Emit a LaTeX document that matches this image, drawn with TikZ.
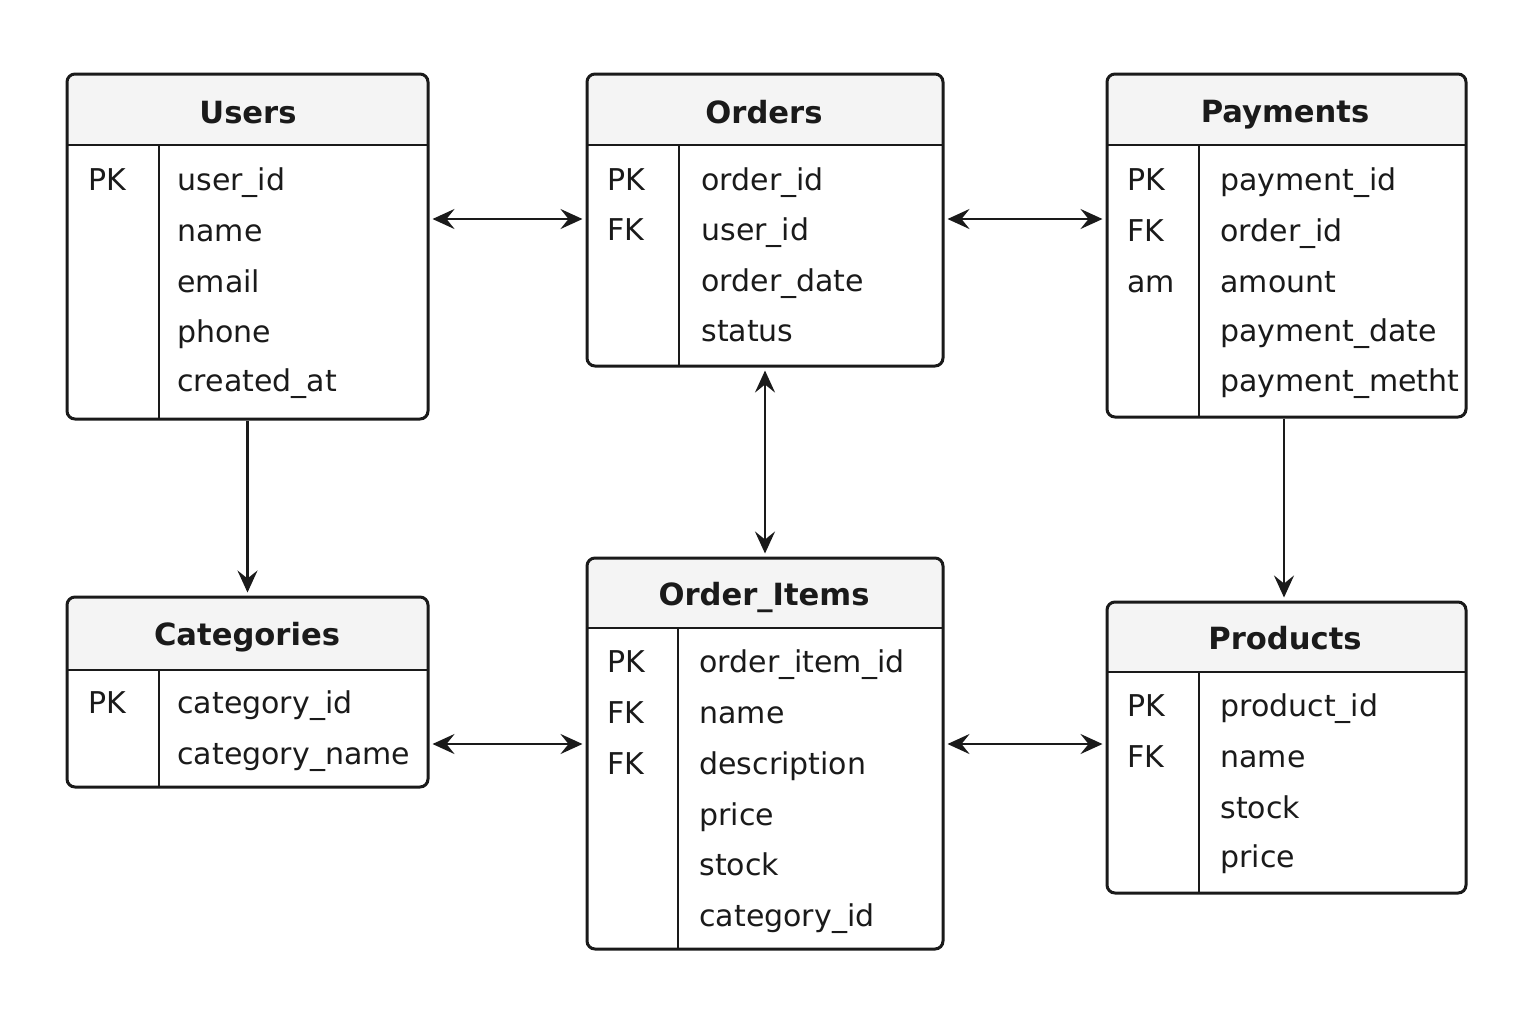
\documentclass[tikz,border=0pt]{standalone}
\usepackage{fontspec}
\setmainfont{DejaVu Sans}
\usetikzlibrary{arrows.meta,fit}
\definecolor{hdrfill}{HTML}{F4F4F4}
\definecolor{ink}{HTML}{1A1A1A}
\tikzset{
  tblline/.style={draw=ink, line width=1.3pt},
  tblbox/.style={draw=ink, line width=1.5pt, rounded corners=4pt, inner sep=0pt},
  tbltitle/.style={font=\bfseries\fontsize{15.3}{18}\selectfont, anchor=base, text=ink, inner sep=0pt},
  fld/.style={font=\fontsize{15}{18}\selectfont, anchor=base west, text=ink, inner sep=0pt},
  rel/.style={draw=ink, line width=1.2pt, shorten <=1.5pt, shorten >=1.5pt,
    >={Stealth[length=11pt,width=10pt,inset=4pt]}},
}
% name, x1, y1, x2, y2, header bottom, divider x
\newcommand{\ertable}[7]{%
  \begin{scope}
    \clip[rounded corners=4pt] (#2,#3) rectangle (#4,#5);
    \fill[hdrfill] (#2,#3) rectangle (#4,#6);
  \end{scope}
  \draw[tblline] (#2,#6) -- (#4,#6);
  \draw[tblline] (#7,#6) -- (#7,#5);
  \node[tblbox, fit={(#2,#3) (#4,#5)}] (#1) {};
}
\begin{document}
\begin{tikzpicture}[x=0.5pt,y=-0.5pt]
\useasboundingbox[fill=white] (0,0) rectangle (1536,1024);

% ---------- Users ----------
\ertable{users}{67}{74}{428}{419}{145}{159}
\node[tbltitle] (users-t) at (248,123) {Users};
\node[fld] (users-k1) at (88,190) {PK};
\node[fld] (users-f1) at (177,190) {user\_id};
\node[fld] (users-f2) at (177,241) {name};
\node[fld] (users-f3) at (177,292) {email};
\node[fld] (users-f4) at (177,342) {phone};
\node[fld] (users-f5) at (177,391) {created\_at};

% ---------- Orders ----------
\ertable{orders}{587}{74}{943}{366}{145}{679}
\node[tbltitle] (orders-t) at (764,123) {Orders};
\node[fld] (orders-k1) at (607,190) {PK};
\node[fld] (orders-k2) at (607,240) {FK};
\node[fld] (orders-f1) at (701,190) {order\_id};
\node[fld] (orders-f2) at (701,240) {user\_id};
\node[fld] (orders-f3) at (701,291) {order\_date};
\node[fld] (orders-f4) at (701,341) {status};

% ---------- Payments ----------
\ertable{payments}{1107}{74}{1466}{417}{145}{1199}
\node[tbltitle] (payments-t) at (1285,122) {Payments};
\node[fld] (payments-k1) at (1127,190) {PK};
\node[fld] (payments-k2) at (1127,241) {FK};
\node[fld] (payments-k3) at (1127,292) {am};
\node[fld] (payments-f1) at (1220,190) {payment\_id};
\node[fld] (payments-f2) at (1220,241) {order\_id};
\node[fld] (payments-f3) at (1220,292) {amount};
\node[fld] (payments-f4) at (1220,341) {payment\_date};
\node[fld] (payments-f5) at (1220,391) {payment\_metht};

% ---------- Categories ----------
\ertable{categories}{67}{597}{428}{787}{670}{159}
\node[tbltitle] (categories-t) at (247,645) {Categories};
\node[fld] (categories-k1) at (88,713) {PK};
\node[fld] (categories-f1) at (177,713) {category\_id};
\node[fld] (categories-f2) at (177,764) {category\_name};

% ---------- Order_Items ----------
\ertable{items}{587}{558}{943}{949}{628}{678}
\node[tbltitle] (items-t) at (764,605) {Order\_Items};
\node[fld] (items-k1) at (607,672) {PK};
\node[fld] (items-k2) at (607,723) {FK};
\node[fld] (items-k3) at (607,774) {FK};
\node[fld] (items-f1) at (699,672) {order\_item\_id};
\node[fld] (items-f2) at (699,723) {name};
\node[fld] (items-f3) at (699,774) {description};
\node[fld] (items-f4) at (699,825) {price};
\node[fld] (items-f5) at (699,875) {stock};
\node[fld] (items-f6) at (699,926) {category\_id};

% ---------- Products ----------
\ertable{products}{1107}{602}{1466}{893}{672}{1199}
\node[tbltitle] (products-t) at (1285,649) {Products};
\node[fld] (products-k1) at (1127,716) {PK};
\node[fld] (products-k2) at (1127,767) {FK};
\node[fld] (products-f1) at (1220,716) {product\_id};
\node[fld] (products-f2) at (1220,767) {name};
\node[fld] (products-f3) at (1220,818) {stock};
\node[fld] (products-f4) at (1220,867) {price};

% ---------- Relations ----------
\coordinate (ytop) at (0,219);
\coordinate (ybot) at (0,744);
\coordinate (xright) at (1284,0);
\draw[rel,<->] (users.east |- ytop) -- (orders.west |- ytop);
\draw[rel,<->] (orders.east |- ytop) -- (payments.west |- ytop);
\draw[rel,<->] (orders.south) -- (items.north);
\draw[rel,->,shorten <=0pt] (users.south) -- (categories.north);
\draw[rel,->,shorten <=0pt] (payments.south -| xright) -- (products.north -| xright);
\draw[rel,<->] (categories.east |- ybot) -- (items.west |- ybot);
\draw[rel,<->] (items.east |- ybot) -- (products.west |- ybot);
\end{tikzpicture}
\end{document}
